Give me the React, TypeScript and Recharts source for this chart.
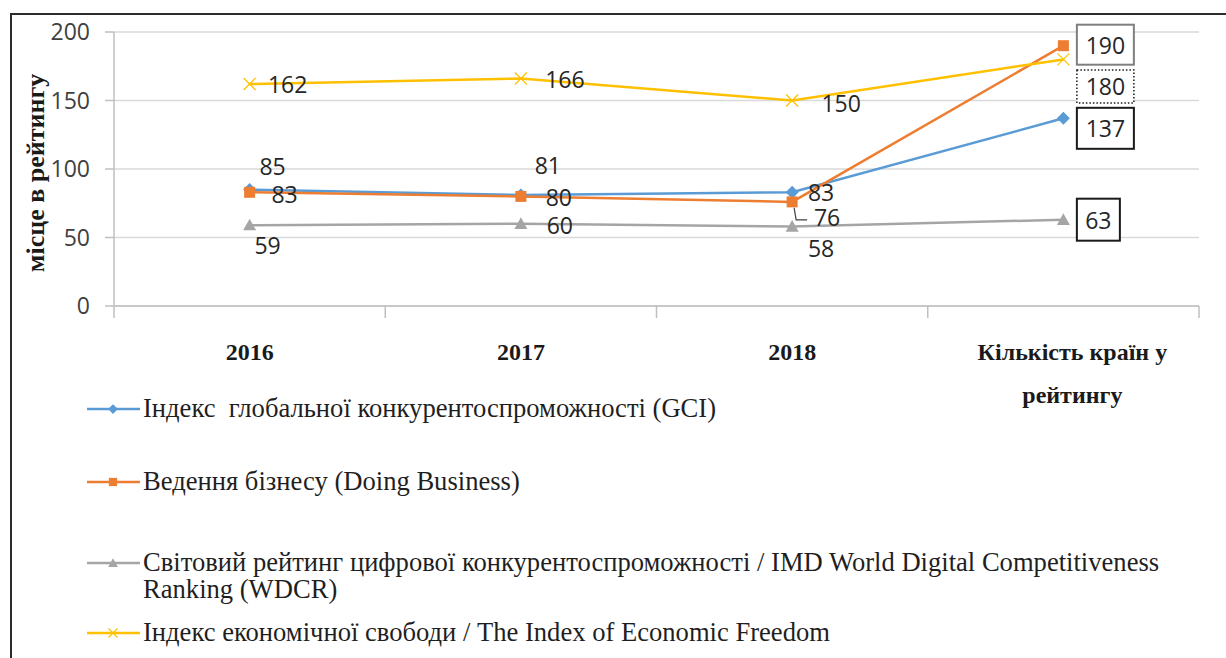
import React from 'react';
import { LineChart, Line, XAxis, YAxis, CartesianGrid, LabelList, Legend } from 'recharts';

const categories = ['2016', '2017', '2018', 'Кількість країн у рейтингу'];
const gciValues = [85, 81, 83, 137];
const doingBusinessValues = [83, 80, 76, 190];
const wdcrValues = [59, 60, 58, 63];
const iefValues = [162, 166, 150, 180];
const yTicks = [0, 50, 100, 150, 200];

const legendGci = ['Індекс  глобальної конкурентоспроможності (GCI)'];
const legendDb = ['Ведення бізнесу (Doing Business)'];
const legendWdcr = ['Світовий рейтинг цифрової конкурентоспроможності / IMD World Digital Competitiveness', 'Ranking (WDCR)'];
const legendIef = ['Індекс економічної свободи / The Index of Economic Freedom'];

const data = categories.map((c, i) => ({
  cat: c,
  gci: gciValues[i],
  db: doingBusinessValues[i],
  wdcr: wdcrValues[i],
  ief: iefValues[i],
}));

type Pos = { dx: number; dy: number; box?: 'solid' | 'dotted' | 'gray'; w?: number; h?: number; leader?: boolean };

const series = [
  {
    key: 'gci', color: '#5B9BD5', marker: 'diamond', legend: legendGci, legendY: 409,
    pos: [{ dx: 23, dy: -24 }, { dx: 27, dy: -30 }, { dx: 29, dy: 0 }, { dx: 42, dy: 10, box: 'solid', w: 57, h: 41 }] as Pos[],
  },
  {
    key: 'db', color: '#ED7D31', marker: 'square', legend: legendDb, legendY: 482,
    pos: [{ dx: 35, dy: 2 }, { dx: 38, dy: 1 }, { dx: 35, dy: 15, leader: true }, { dx: 42, dy: -1, box: 'gray', w: 57, h: 40 }] as Pos[],
  },
  {
    key: 'wdcr', color: '#A5A5A5', marker: 'triangle', legend: legendWdcr, legendY: 563,
    pos: [{ dx: 18, dy: 20 }, { dx: 39, dy: 1 }, { dx: 29, dy: 21 }, { dx: 35, dy: 0, box: 'solid', w: 43, h: 42 }] as Pos[],
  },
  {
    key: 'ief', color: '#FFC000', marker: 'x', legend: legendIef, legendY: 633,
    pos: [{ dx: 38, dy: 0 }, { dx: 44, dy: 0 }, { dx: 49, dy: 2 }, { dx: 42, dy: 27, box: 'dotted', w: 57, h: 33 }] as Pos[],
  },
];

const LABEL_FONT = '"Open Sans", Lato, sans-serif';
const SERIF = '"Liberation Serif", "DejaVu Serif", serif';

function Marker({ type, cx, cy, color, s = 1 }: { type: string; cx: number; cy: number; color: string; s?: number }) {
  if (type === 'diamond') {
    const r = 6.5 * s;
    return <polygon points={`${cx},${cy - r} ${cx + r},${cy} ${cx},${cy + r} ${cx - r},${cy}`} fill={color} />;
  }
  if (type === 'square') {
    const r = 5.5 * s;
    return <rect x={cx - r} y={cy - r} width={2 * r} height={2 * r} fill={color} />;
  }
  if (type === 'triangle') {
    const r = 6.5 * s;
    return <polygon points={`${cx},${cy - r} ${cx + r},${cy + r * 0.8} ${cx - r},${cy + r * 0.8}`} fill={color} />;
  }
  const r = 6 * s;
  return (
    <g stroke={color} strokeWidth={1.3}>
      <line x1={cx - r} y1={cy - r} x2={cx + r} y2={cy + r} />
      <line x1={cx - r} y1={cy + r} x2={cx + r} y2={cy - r} />
    </g>
  );
}

function makeDot(type: string, color: string) {
  return (props: any) => {
    const { cx, cy, index } = props;
    if (cx == null || cy == null) return <g key={index} />;
    return <Marker key={index} type={type} cx={cx} cy={cy} color={color} />;
  };
}

function makeLabel(pos: Pos[]) {
  return (props: any) => {
    const { x, y, value, index } = props;
    const p = pos[index];
    if (!p) return null;
    const tx = x + p.dx;
    const ty = y + p.dy;
    return (
      <g key={index}>
        {p.box && (
          <rect
            x={tx - (p.w as number) / 2}
            y={ty - (p.h as number) / 2}
            width={p.w}
            height={p.h}
            fill="#fff"
            stroke={p.box === 'gray' ? '#7f7f7f' : '#1a1a1a'}
            strokeWidth={p.box === 'dotted' ? 1.5 : 2}
            strokeDasharray={p.box === 'dotted' ? '1.5 2' : undefined}
          />
        )}
        {p.leader && (
          <polyline points={`${x + 2},${y + 6} ${x + 4},${y + 18} ${x + 15},${y + 18}`} fill="none" stroke="#404040" strokeWidth={1.2} />
        )}
        <text x={tx} y={ty} textAnchor="middle" dominantBaseline="central" fontSize={23} fontFamily={LABEL_FONT} fill="#262626">
          {value}
        </text>
      </g>
    );
  };
}

function XTick(props: any) {
  const { x, y, payload, index, width } = props;
  const n = categories.length;
  const bw = width ? width / n : 271.25;
  const label: string = payload.value;
  const lines = index === n - 1 ? ['Кількість країн у', 'рейтингу'] : [label];
  return (
    <g>
      <line x1={x - bw / 2} y1={y} x2={x - bw / 2} y2={y + 12} stroke="#bfbfbf" strokeWidth={1.5} />
      {index === n - 1 && <line x1={x + bw / 2} y1={y} x2={x + bw / 2} y2={y + 12} stroke="#bfbfbf" strokeWidth={1.5} />}
      {lines.map((l, i) => (
        <text key={i} x={x + (index === n - 1 ? 9 : 0)} y={y + 54 + i * 43} textAnchor="middle" fontSize={24} fontWeight="bold" fontFamily={SERIF} fill="#1a1a1a">
          {l}
        </text>
      ))}
    </g>
  );
}

function YTitle(props: any) {
  const vb = props.viewBox || { x: 0, y: 0, width: 0, height: 0 };
  const cx = vb.x + 21;
  const cy = vb.y + vb.height / 2 + 4;
  return (
    <text x={cx} y={cy} transform={`rotate(-90, ${cx}, ${cy})`} textAnchor="middle" dominantBaseline="central" fontSize={26} fontWeight="bold" fontFamily={SERIF} fill="#1a1a1a">
      місце в рейтингу
    </text>
  );
}

function LegendContent() {
  const top0 = 392;
  return (
    <div style={{ position: 'relative', width: 1130, height: 260, fontFamily: SERIF, fontSize: 26.6, color: '#1f1f1f' }}>
      {series.map((s) => (
        <div key={s.key} style={{ position: 'absolute', left: 0, top: s.legendY - top0 - 14, display: 'flex', alignItems: 'flex-start' }}>
          <svg width={56} height={28} style={{ flex: '0 0 auto' }}>
            <line x1={2} y1={14} x2={55} y2={14} stroke={s.color} strokeWidth={2.5} />
            <Marker type={s.marker} cx={28} cy={14} color={s.color} s={0.75} />
          </svg>
          <div style={{ marginLeft: 2, lineHeight: '27px', whiteSpace: 'nowrap' }}>
            {s.legend.map((l, i) => (
              <div key={i} style={{ whiteSpace: 'pre' }}>{l}</div>
            ))}
          </div>
        </div>
      ))}
    </div>
  );
}

export default function App() {
  return (
    <div style={{ position: 'absolute', left: 0, top: 0, width: 1226, height: 658, background: '#fff', overflow: 'hidden' }}>
      <div style={{ position: 'absolute', left: 10, top: 13, right: -2, bottom: -2, borderTop: '2px solid #2b2b2b', borderLeft: '2px solid #2b2b2b' }} />
      <div style={{ position: 'absolute', left: 0, top: 0 }}>
        <LineChart width={1226} height={658} data={data} margin={{ top: 32, right: 27, left: 14, bottom: 292 }}>
          <CartesianGrid horizontal vertical={false} stroke="#d9d9d9" strokeWidth={1.5} />
          <XAxis
            dataKey="cat"
            scale="band"
            height={60}
            axisLine={{ stroke: '#bfbfbf', strokeWidth: 1.5 }}
            tickLine={false}
            tickSize={0}
            tickMargin={0}
            tick={<XTick />}
            interval={0}
          />
          <YAxis
            width={100}
            domain={[0, 200]}
            ticks={yTicks}
            axisLine={{ stroke: '#bfbfbf', strokeWidth: 1.5 }}
            tickLine={{ stroke: '#bfbfbf', strokeWidth: 1.5 }}
            tickSize={9}
            tickMargin={15}
            tick={{ fontSize: 23, fontFamily: LABEL_FONT, fill: '#404040' }}
            label={<YTitle />}
          />
          <Legend verticalAlign="middle" align="center" layout="horizontal" content={<LegendContent />} wrapperStyle={{ position: 'absolute', left: 85, top: 392, width: 1130 }} />
          {series.map((s) => (
            <Line
              key={s.key}
              type="linear"
              dataKey={s.key}
              stroke={s.color}
              strokeWidth={2.5}
              dot={makeDot(s.marker, s.color)}
              activeDot={false}
              isAnimationActive={false}
            >
              <LabelList dataKey={s.key} content={makeLabel(s.pos)} />
            </Line>
          ))}
        </LineChart>
      </div>
    </div>
  );
}
